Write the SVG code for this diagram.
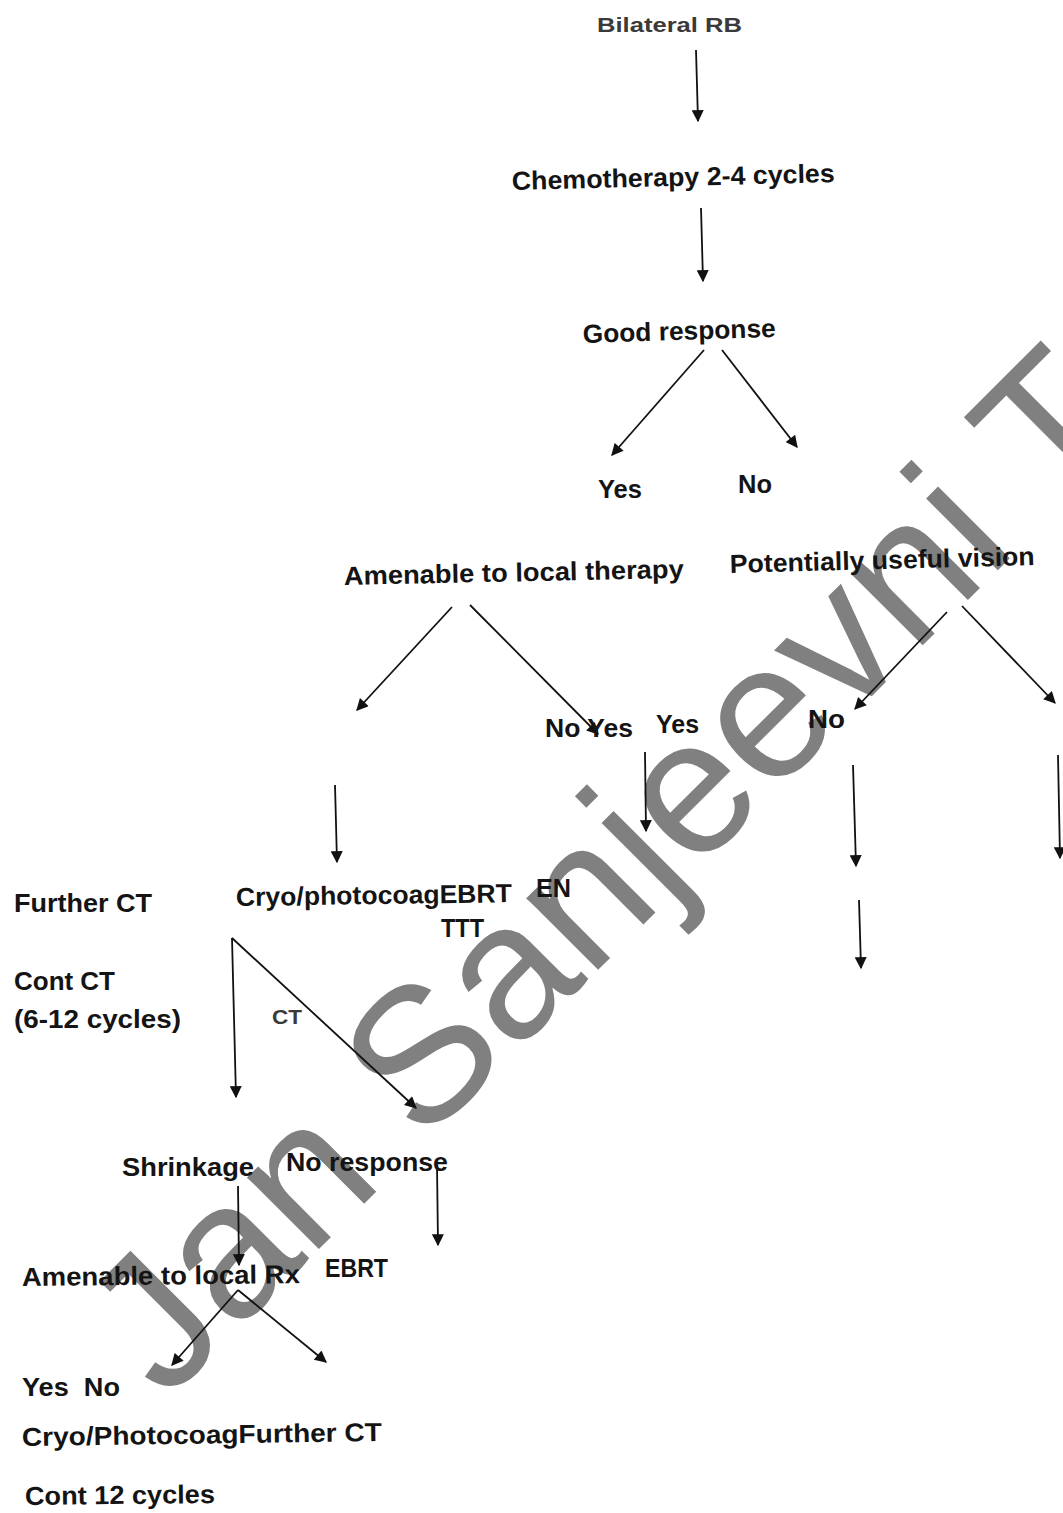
<svg xmlns="http://www.w3.org/2000/svg" width="1063" height="1513" viewBox="0 0 1063 1513">
<style>
.t{font-family:"Liberation Sans",Arial,sans-serif;font-weight:bold;fill:#141414;font-size:26px}
.s{font-size:21px;fill:#3a3a3a}
.c{stroke:#111;stroke-width:1.8;fill:none;marker-end:url(#ah)}
.wm{font-family:"Liberation Sans",Arial,sans-serif;font-size:192px;fill:#808080}
</style>
<defs>
<marker id="ah" viewBox="0 0 10 10" refX="9" refY="5" markerUnits="userSpaceOnUse" markerWidth="13" markerHeight="12" orient="auto">
<path d="M0,0 L10,5 L0,10 z" fill="#111"/>
</marker>
</defs>
<rect width="1063" height="1513" fill="#fff"/>
<text class="wm" transform="translate(166,1402) rotate(-45)">Jan Sanjeevni T</text>
<g id="connectors">
<line class="c" x1="696" y1="50" x2="698" y2="121"/>
<line class="c" x1="701" y1="208" x2="703" y2="281"/>
<line class="c" x1="704" y1="350" x2="612" y2="455"/>
<line class="c" x1="722" y1="350" x2="797" y2="447"/>
<line class="c" x1="452" y1="607" x2="357" y2="710"/>
<line class="c" x1="470" y1="605" x2="598" y2="734"/>
<line class="c" x1="947" y1="612" x2="855" y2="709"/>
<line class="c" x1="962" y1="606" x2="1055" y2="703"/>
<line class="c" x1="335" y1="785" x2="337" y2="862"/>
<line class="c" x1="645" y1="752" x2="646" y2="831"/>
<line class="c" x1="853" y1="765" x2="856" y2="866"/>
<line class="c" x1="859" y1="900" x2="861" y2="968"/>
<line class="c" x1="1058" y1="755" x2="1060" y2="858"/>
<line class="c" x1="232" y1="938" x2="236" y2="1097"/>
<line class="c" x1="232" y1="938" x2="416" y2="1108"/>
<line class="c" x1="437" y1="1165" x2="438" y2="1245"/>
<line class="c" x1="238" y1="1186" x2="239" y2="1265"/>
<line class="c" x1="238" y1="1290" x2="172" y2="1365"/>
<line class="c" x1="238" y1="1290" x2="326" y2="1362"/>
</g>
<g id="n-bilateral"><text class="t s" x="597" y="32" textLength="145" lengthAdjust="spacingAndGlyphs">Bilateral RB</text></g>
<g id="n-chemo"><text class="t" x="512" y="190" transform="rotate(-1.4 512 190)" textLength="323" lengthAdjust="spacingAndGlyphs">Chemotherapy 2-4 cycles</text></g>
<g id="n-good"><text class="t" x="583" y="343" transform="rotate(-1.8 583 343)" textLength="193" lengthAdjust="spacingAndGlyphs">Good response</text></g>
<g id="n-yes1"><text class="t" x="598" y="498" textLength="44" lengthAdjust="spacingAndGlyphs">Yes</text></g>
<g id="n-no1"><text class="t" x="738" y="493" textLength="34" lengthAdjust="spacingAndGlyphs">No</text></g>
<g id="n-amenable"><text class="t" x="344" y="585" transform="rotate(-1.2 344 585)" textLength="340" lengthAdjust="spacingAndGlyphs">Amenable to local therapy</text></g>
<g id="n-potential"><text class="t" x="730" y="573" transform="rotate(-1.5 730 573)" textLength="305" lengthAdjust="spacingAndGlyphs">Potentially useful vision</text></g>
<g id="n-noyes"><text class="t" x="545" y="737" textLength="88" lengthAdjust="spacingAndGlyphs">No Yes</text></g>
<g id="n-yes2"><text class="t" x="656" y="733" textLength="43" lengthAdjust="spacingAndGlyphs">Yes</text></g>
<g id="n-no2"><text class="t" x="808" y="728" textLength="37" lengthAdjust="spacingAndGlyphs">No</text></g>
<g id="n-further1"><text class="t" x="14" y="912" textLength="138" lengthAdjust="spacingAndGlyphs">Further CT</text></g>
<g id="n-cryo1"><text class="t" x="236" y="906" transform="rotate(-0.8 236 906)" textLength="276" lengthAdjust="spacingAndGlyphs">Cryo/photocoagEBRT</text>
<text class="t" x="536" y="897" textLength="35" lengthAdjust="spacingAndGlyphs">EN</text>
<text class="t" x="441" y="937" textLength="43" lengthAdjust="spacingAndGlyphs">TTT</text></g>
<g id="n-cont1"><text class="t" x="14" y="990" textLength="101" lengthAdjust="spacingAndGlyphs">Cont CT</text>
<text class="t" x="14" y="1028" textLength="167" lengthAdjust="spacingAndGlyphs">(6-12 cycles)</text></g>
<g id="n-ct"><text class="t s" x="272" y="1024" textLength="30" lengthAdjust="spacingAndGlyphs">CT</text></g>
<g id="n-shrink"><text class="t" x="122" y="1176" textLength="132" lengthAdjust="spacingAndGlyphs">Shrinkage</text></g>
<g id="n-noresp"><text class="t" x="286" y="1171" textLength="162" lengthAdjust="spacingAndGlyphs">No response</text></g>
<g id="n-amenrx"><text class="t" x="22" y="1286" transform="rotate(-0.6 22 1286)" textLength="278" lengthAdjust="spacingAndGlyphs">Amenable to local Rx</text></g>
<g id="n-ebrt"><text class="t" x="325" y="1277" textLength="63" lengthAdjust="spacingAndGlyphs">EBRT</text></g>
<g id="n-yesno"><text class="t" x="22" y="1396" textLength="98" lengthAdjust="spacingAndGlyphs" xml:space="preserve">Yes  No</text></g>
<g id="n-cryo2"><text class="t" x="22" y="1446" transform="rotate(-0.8 22 1446)" textLength="360" lengthAdjust="spacingAndGlyphs">Cryo/PhotocoagFurther CT</text></g>
<g id="n-cont2"><text class="t" x="25" y="1505" transform="rotate(-0.6 25 1505)" textLength="190" lengthAdjust="spacingAndGlyphs">Cont 12 cycles</text></g>
</svg>
